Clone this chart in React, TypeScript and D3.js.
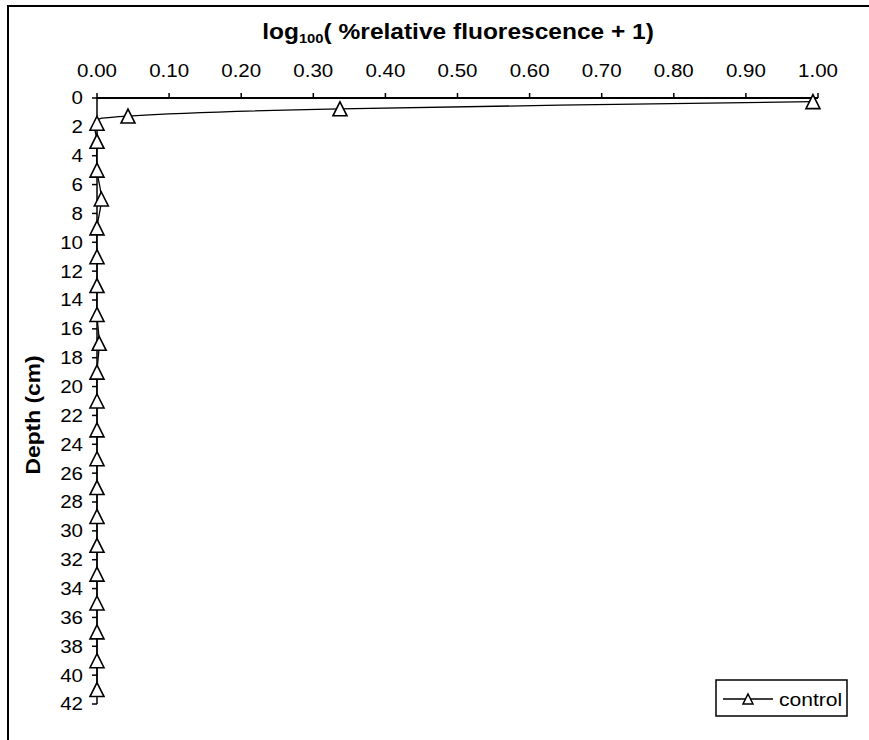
import React from "react";
import * as d3 from "d3";

// Depth profile of the control core (cm below surface)
const depths = [0.25, 0.75, 1.25, 1.75, 3, 5, 7, 9, 11, 13, 15, 17, 19, 21, 23, 25, 27, 29, 31, 33, 35, 37, 39, 41];
// log100(% relative fluorescence + 1) at each depth
const control = [0.993, 0.337, 0.043, 0.0, 0.0, 0.0, 0.006, 0.0, 0.0, 0.0, 0.0, 0.003, 0.0, 0.0, 0.0, 0.0, 0.0, 0.0, 0.0, 0.0, 0.0, 0.0, 0.0, 0.0];

const xTicks = [0, 0.1, 0.2, 0.3, 0.4, 0.5, 0.6, 0.7, 0.8, 0.9, 1.0];
const yTicks = [0, 2, 4, 6, 8, 10, 12, 14, 16, 18, 20, 22, 24, 26, 28, 30, 32, 34, 36, 38, 40, 42];

const W = 869;
const H = 740;
const FONT = "'Liberation Sans', Arial, sans-serif";
const SX = 1.14; // horizontal stretch of the chart lettering

type Pt = { d: number; v: number };

function Label(props: {
  x: number;
  y: number;
  anchor?: "start" | "middle" | "end";
  size: number;
  bold?: boolean;
  rotate?: number;
  children: React.ReactNode;
}) {
  const { x, y, anchor = "start", size, bold, rotate = 0, children } = props;
  return (
    <text
      transform={`translate(${x},${y}) rotate(${rotate}) scale(${SX},1)`}
      textAnchor={anchor}
      fontSize={size}
      fontWeight={bold ? "bold" : "normal"}
    >
      {children}
    </text>
  );
}

export default function App() {
  const x = d3.scaleLinear().domain([0, 1]).range([97, 818]);
  const y = d3.scaleLinear().domain([0, 42]).range([98, 704]);

  const pts: Pt[] = depths.map((d, i) => ({ d, v: control[i] }));
  const line = d3
    .line<Pt>()
    .x((p) => x(p.v))
    .y((p) => y(p.d))
    .curve(d3.curveCardinal.tension(0));

  const tri = (s: number) => `M0,${-s}L${s},${s}L${-s},${s}Z`;

  return (
    <div style={{ position: "absolute", left: 0, top: 0 }}>
      <svg width={W} height={H} style={{ display: "block", background: "#fff" }} fontFamily={FONT}>
        <rect x={8} y={6} width={W + 20} height={H + 20} fill="#fff" stroke="#000" strokeWidth={2} />

        {/* title */}
        <Label x={458} y={39} anchor="middle" size={21.5} bold>
          log<tspan fontSize={13} dy={4}>100</tspan>
          <tspan dy={-4}>( %relative fluorescence + 1)</tspan>
        </Label>

        {/* top value axis */}
        <line x1={x(0)} x2={x(1)} y1={y(0)} y2={y(0)} stroke="#000" strokeWidth={2} />
        {xTicks.map((t) => (
          <g key={t}>
            <line x1={x(t)} x2={x(t)} y1={y(0)} y2={y(0) - 5} stroke="#000" strokeWidth={1.5} />
            <Label x={x(t)} y={77} anchor="middle" size={18}>
              {t.toFixed(2)}
            </Label>
          </g>
        ))}

        {/* depth axis */}
        <line x1={x(0)} x2={x(0)} y1={y(0)} y2={y(42)} stroke="#000" strokeWidth={1.5} />
        {yTicks.map((t) => (
          <g key={t}>
            <line x1={x(0) - 5} x2={x(0)} y1={y(t)} y2={y(t)} stroke="#000" strokeWidth={1.5} />
            <Label x={83} y={y(t) + 6.4} anchor="end" size={18}>
              {t}
            </Label>
          </g>
        ))}
        <Label x={40} y={415} anchor="middle" size={20} bold rotate={-90}>
          Depth (cm)
        </Label>

        {/* series */}
        <path d={line(pts) || ""} fill="none" stroke="#000" strokeWidth={1.3} />
        {pts.map((p, i) => (
          <path
            key={i}
            d={tri(7)}
            transform={`translate(${x(p.v)},${y(p.d)})`}
            fill="#fff"
            stroke="#000"
            strokeWidth={1.6}
          />
        ))}

        {/* legend */}
        <rect x={716} y={680} width={131} height={36} fill="#fff" stroke="#000" strokeWidth={1.5} />
        <line x1={723} x2={773} y1={699} y2={699} stroke="#000" strokeWidth={1.3} />
        <path d={tri(5)} transform="translate(748,699)" fill="#fff" stroke="#000" strokeWidth={1.5} />
        <Label x={779} y={705.5} size={18.5}>
          control
        </Label>
      </svg>
    </div>
  );
}
